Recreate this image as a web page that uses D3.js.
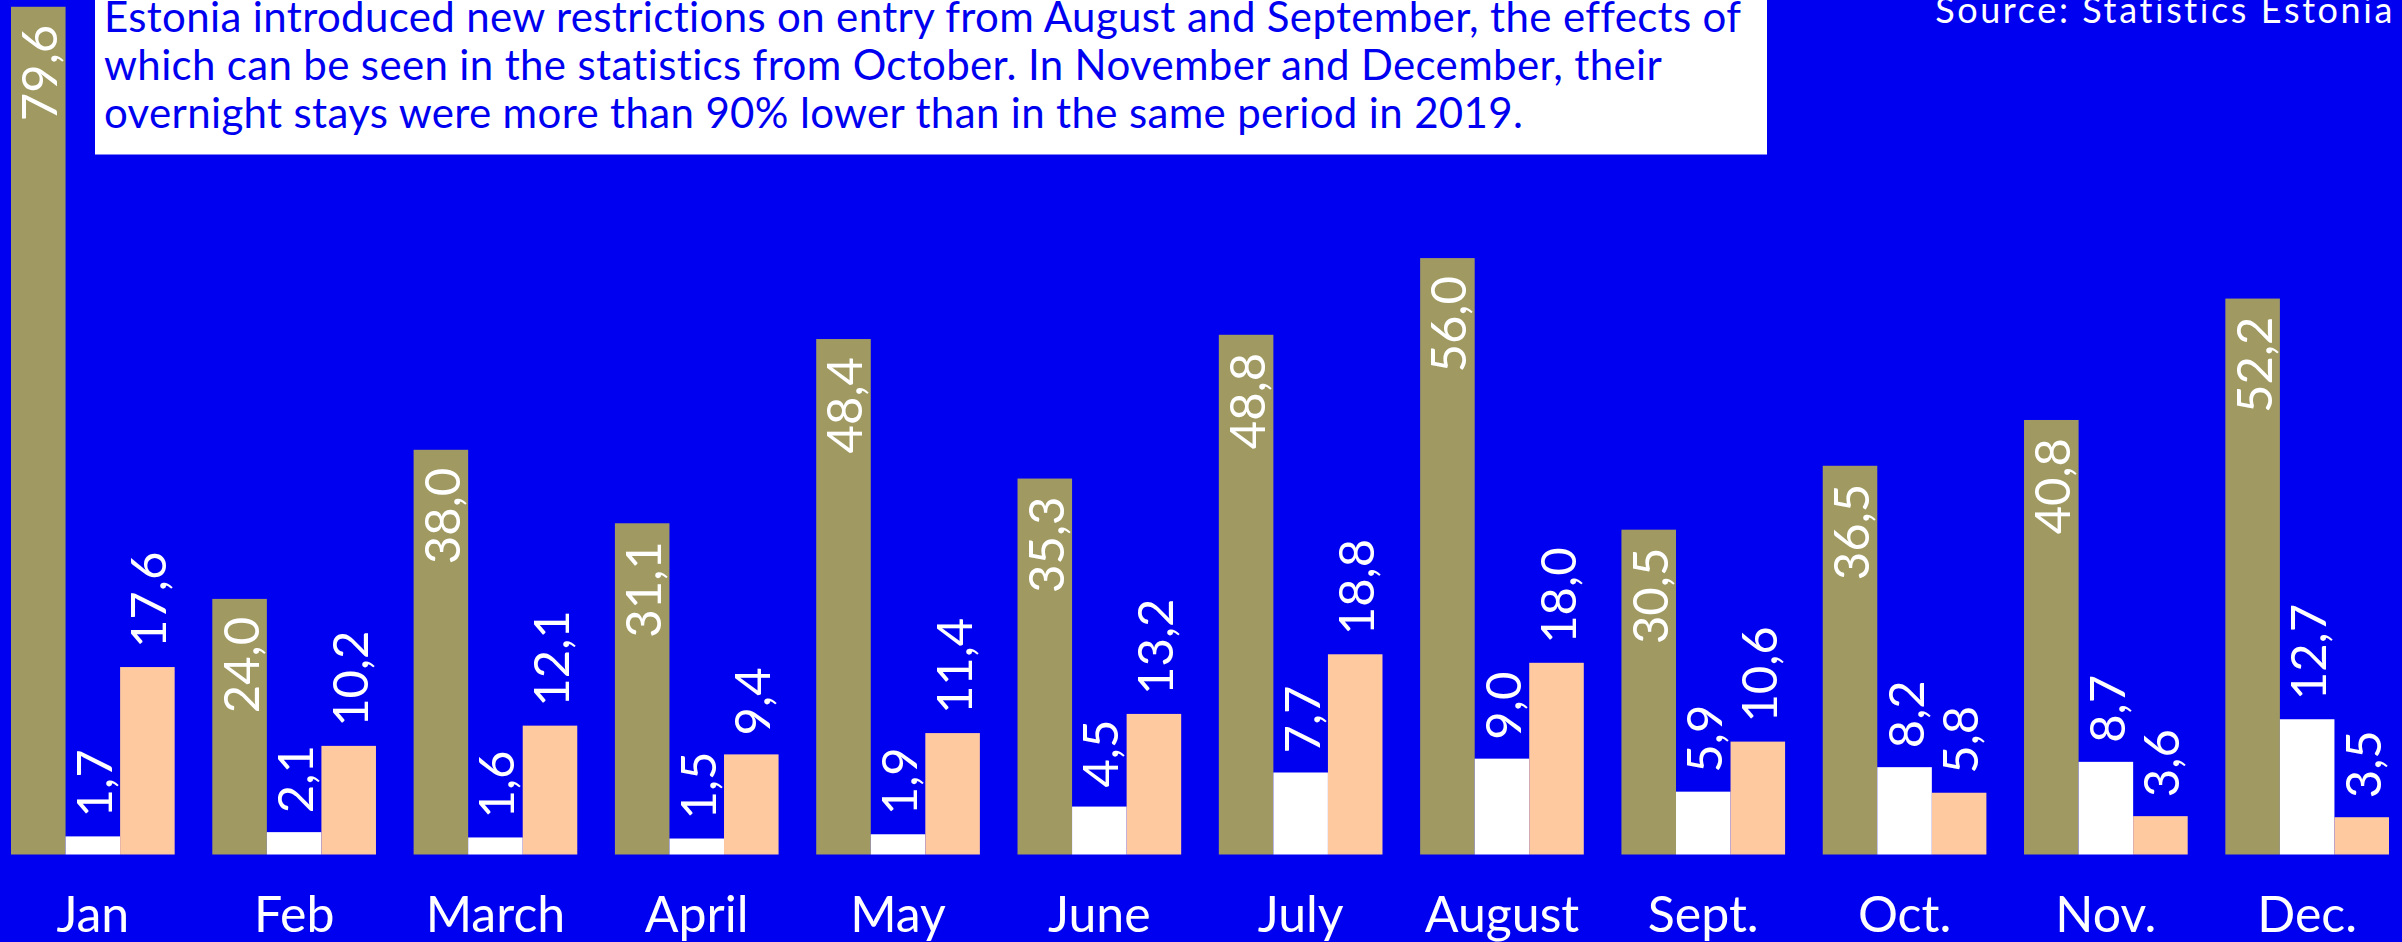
<!doctype html>
<html lang="en">

<head>
  <title>Overnight stays by month</title>
  <meta charset="utf-8" />
  <script src="https://d3js.org/d3.v7.min.js"></script>
  <style>
    html, body { margin: 0; padding: 0; background: #0000f0; overflow: hidden; }
    svg { display: block; font-family: Lato, "Open Sans", sans-serif; }
  </style>
</head>

<body>
  <figure id="bar-chart" style="margin:0"></figure>

  <script>
    // data
    const months = ["Jan", "Feb", "March", "April", "May", "June", "July", "August", "Sept.", "Oct.", "Nov.", "Dec."];
    const seriesNames = ["olive", "white", "peach"];
    const oliveValues = [79.6, 24.0, 38.0, 31.1, 48.4, 35.3, 48.8, 56.0, 30.5, 36.5, 40.8, 52.2];
    const whiteValues = [1.7, 2.1, 1.6, 1.5, 1.9, 4.5, 7.7, 9.0, 5.9, 8.2, 8.7, 12.7];
    const peachValues = [17.6, 10.2, 12.1, 9.4, 11.4, 13.2, 18.8, 18.0, 10.6, 5.8, 3.6, 3.5];
    const noteLines = [
      "Estonia introduced new restrictions on entry from August and September, the effects of",
      "which can be seen in the statistics from October. In November and December, their",
      "overnight stays were more than 90% lower than in the same period in 2019."
    ];
    const sourceText = "Source: Statistics Estonia";

    const colors = { olive: "#a09a62", white: "#ffffff", peach: "#ffc9a0" };

    const width = 2402, height = 942;
    const baseline = 854.5;

    const svg = d3.select("#bar-chart").append("svg")
      .attr("width", width)
      .attr("height", height);

    svg.append("rect")
      .attr("width", width)
      .attr("height", height)
      .attr("fill", "#0000f0");

    const rows = months.map((m, i) => ({
      month: m,
      olive: oliveValues[i],
      white: whiteValues[i],
      peach: peachValues[i]
    }));

    const x0 = d3.scaleBand()
      .domain(months)
      .range([11, 2389])
      .paddingInner(0.187)
      .paddingOuter(0);

    const x1 = d3.scaleBand()
      .domain(seriesNames)
      .range([0, x0.bandwidth()]);

    const y = d3.scaleLinear()
      .domain([0, 80])
      .range([baseline, 2.5]);

    const fmt = d3.formatLocale({ decimal: ",", thousands: " ", grouping: [3], currency: ["", ""] }).format(".1f");

    const groups = svg.selectAll("g.group")
      .data(rows)
      .enter()
      .append("g")
      .attr("class", "group")
      .attr("transform", d => "translate(" + x0(d.month) + ",0)");

    const cells = groups.selectAll("g.cell")
      .data(d => seriesNames.map(s => ({ key: s, value: d[s] })))
      .enter()
      .append("g")
      .attr("class", "cell");

    cells.append("rect")
      .attr("x", d => x1(d.key))
      .attr("y", d => y(d.value))
      .attr("width", x1.bandwidth())
      .attr("height", d => baseline - y(d.value))
      .attr("fill", d => colors[d.key]);

    // value labels, rotated; inside the olive bars, above the others
    cells.append("text")
      .text(d => fmt(d.value))
      .attr("transform", d => {
        const cx = x1(d.key) + x1.bandwidth() / 2;
        const ty = d.key === "olive" ? y(d.value) + 18 : y(d.value) - 19;
        return "translate(" + cx + "," + ty + ") rotate(-90)";
      })
      .attr("text-anchor", d => d.key === "olive" ? "end" : "start")
      .attr("dominant-baseline", "central")
      .attr("fill", "#ffffff")
      .attr("font-size", 49);

    // month labels
    svg.append("g")
      .selectAll("text")
      .data(months)
      .enter()
      .append("text")
      .text(d => d)
      .attr("x", d => x0(d) + x0.bandwidth() / 2)
      .attr("y", 932)
      .attr("text-anchor", "middle")
      .attr("fill", "#ffffff")
      .attr("font-size", 50);

    // note box
    svg.append("rect")
      .attr("x", 95)
      .attr("y", 0)
      .attr("width", 1672)
      .attr("height", 154.5)
      .attr("fill", "#ffffff");

    svg.append("g")
      .selectAll("text")
      .data(noteLines)
      .enter()
      .append("text")
      .text(d => d)
      .attr("x", 104)
      .attr("y", (d, i) => 31.7 + i * 48.3)
      .attr("fill", "#0000f0")
      .attr("font-size", 42)
      .attr("letter-spacing", 0.35);

    svg.append("text")
      .text(sourceText)
      .attr("x", 2395)
      .attr("y", 22.7)
      .attr("text-anchor", "end")
      .attr("fill", "#ffffff")
      .attr("font-size", 36)
      .attr("letter-spacing", 2.6);
  </script>

</body></html>
